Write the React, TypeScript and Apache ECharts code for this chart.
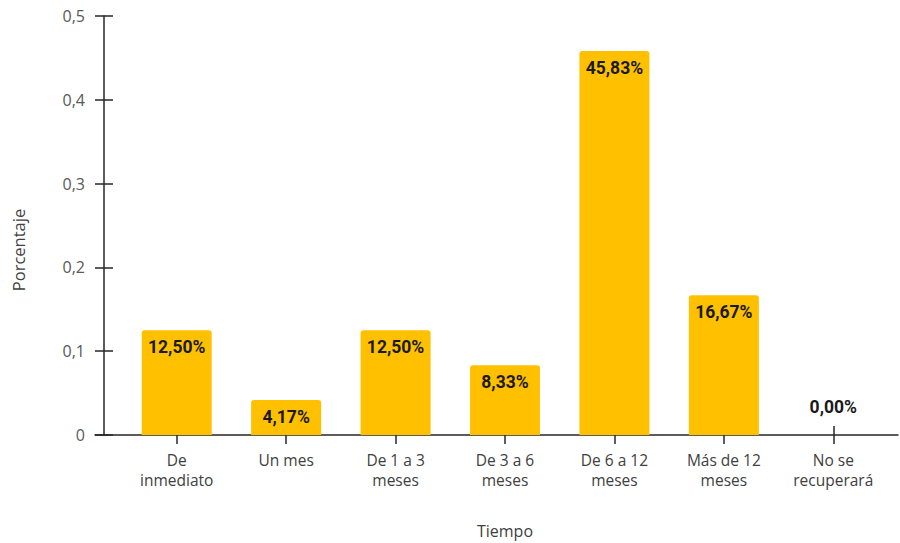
import React, { useEffect, useRef } from "react";
import * as echarts from "echarts";

const categories = [
  "De\ninmediato",
  "Un mes",
  "De 1 a 3\nmeses",
  "De 3 a 6\nmeses",
  "De 6 a 12\nmeses",
  "Más de 12\nmeses",
  "No se\nrecuperará",
];
const values = [0.125, 0.0417, 0.125, 0.0833, 0.4583, 0.1667, 0.0];
const valueLabels = ["12,50%", "4,17%", "12,50%", "8,33%", "45,83%", "16,67%", "0,00%"];
const yTicks = { min: 0, max: 0.5, interval: 0.1 };

const AXIS = "#262626";
const FONT = "'Open Sans', 'Noto Sans', sans-serif";

export default function App() {
  const ref = useRef<HTMLDivElement>(null);
  useEffect(() => {
    if (!ref.current) return;
    const chart = echarts.init(ref.current, undefined, { renderer: "svg" });
    chart.setOption({
      animation: false,
      grid: [
        { left: 122, right: 12, top: 16, bottom: 108, outerBoundsMode: "none", containLabel: false },
        { left: 95, right: 2, top: 16, bottom: 108, outerBoundsMode: "none", containLabel: false },
      ],
      xAxis: [
        {
          type: "category",
          gridIndex: 0,
          data: categories,
          axisLine: { show: false },
          axisTick: { show: true, alignWithLabel: true, length: 9, lineStyle: { color: AXIS, width: 1.5 } },
          axisLabel: { color: "#404040", fontSize: 15.5, fontFamily: FONT, margin: 15, lineHeight: 20, interval: 0 },
          name: "Tiempo",
          nameLocation: "middle",
          nameGap: 88,
          nameTextStyle: { color: "#404040", fontSize: 16, fontFamily: FONT },
        },
        {
          type: "category",
          gridIndex: 0,
          data: categories,
          position: "bottom",
          axisLine: { show: false },
          axisTick: { show: true, inside: true, alignWithLabel: true, length: 9, lineStyle: { color: AXIS, width: 1.5 } },
          axisLabel: { show: false },
        },
        {
          type: "value",
          gridIndex: 1,
          min: 0,
          max: 1,
          axisLine: { show: true, lineStyle: { color: AXIS, width: 1.5 } },
          axisTick: { show: false },
          axisLabel: { show: false },
          splitLine: { show: false },
        },
      ],
      yAxis: [
        {
          type: "value",
          gridIndex: 0,
          position: "left",
          ...yTicks,
          offset: 18,
          axisLine: { show: true, lineStyle: { color: AXIS, width: 1.5 } },
          axisTick: { show: true, length: 9, lineStyle: { color: AXIS, width: 1.5 } },
          axisLabel: {
            color: "#595959",
            fontSize: 16,
            fontFamily: FONT,
            margin: 19,
            formatter: (v: number) => (Math.round(v * 10) / 10).toString().replace(".", ","),
          },
          splitLine: { show: false },
        },
        {
          type: "value",
          gridIndex: 0,
          position: "left",
          ...yTicks,
          offset: 18,
          axisLine: { show: false },
          axisTick: { show: true, inside: true, length: 9, lineStyle: { color: AXIS, width: 1.5 } },
          axisLabel: { show: false },
          splitLine: { show: false },
        },
        {
          type: "value",
          gridIndex: 1,
          show: false,
          min: 0,
          max: 1,
        },
      ],
      graphic: [
        {
          type: "text",
          x: 18,
          y: 250,
          rotation: Math.PI / 2,
          style: {
            text: "Porcentaje",
            fill: "#404040",
            font: `16.5px ${FONT}`,
            align: "center",
            verticalAlign: "middle",
          },
        },
      ],
      series: [
        {
          type: "bar",
          xAxisIndex: 0,
          yAxisIndex: 0,
          barWidth: 70,
          data: values.map((v) => ({
            value: v,
            label:
              v === 0
                ? { position: "top", distance: 19 }
                : { position: "insideTop", distance: 8 },
          })),
          itemStyle: { color: "#FFC000", borderRadius: [3, 3, 0, 0] },
          label: {
            show: true,
            formatter: (p: any) => valueLabels[p.dataIndex],
            color: "#1a1a1a",
            fontWeight: "bold",
            fontSize: 17.5,
            fontFamily: "Roboto, sans-serif",
          },
        },
      ],
    });
    return () => chart.dispose();
  }, []);
  return <div ref={ref} style={{ width: 900, height: 543, position: "absolute", left: 0, top: 0 }} />;
}
